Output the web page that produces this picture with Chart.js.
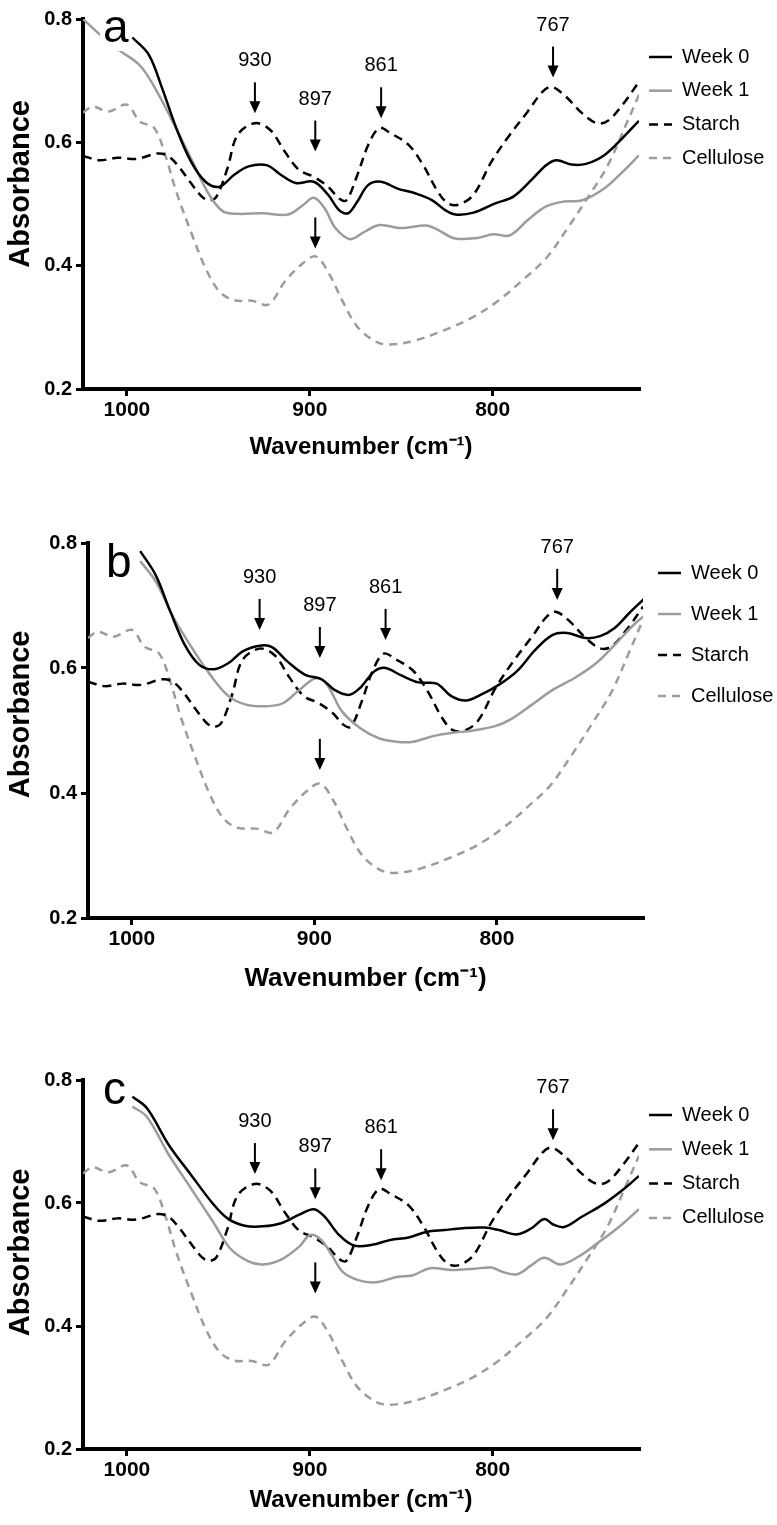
<!DOCTYPE html>
<html>
<head>
<meta charset="utf-8">
<script src="https://cdn.jsdelivr.net/npm/chart.js@4.4.1/dist/chart.umd.min.js"></script>
<style>
  html, body { margin: 0; padding: 0; background: #fff; }
  #wrap { position: relative; width: 777px; height: 1525px; overflow: hidden; }
  .panel { position: absolute; left: 0; width: 777px; }
</style>
</head>
<body>
<div id="wrap">
  <div class="panel" style="top:0;height:472px"><canvas id="chartA"></canvas></div>
  <div class="panel" style="top:490px;height:520px"><canvas id="chartB"></canvas></div>
  <div class="panel" style="top:1030px;height:495px"><canvas id="chartC"></canvas></div>
</div>
<script>
// reference spectra (same in every panel)
const starchWn = [1024, 1015, 1005, 995, 983, 977, 971, 965, 959, 955, 951, 945, 939.5, 930, 921.6, 913.7, 905.8, 897.8, 890, 884, 880, 874, 868, 862, 856, 846, 838, 830, 824.4, 818.5, 810.5, 800.6, 790.7, 780.8, 772.8, 767.9, 761, 751, 743, 737, 729, 720];
const starchAbs = [0.578, 0.571, 0.575, 0.573, 0.582, 0.577, 0.558, 0.534, 0.512, 0.506, 0.512, 0.558, 0.612, 0.631, 0.620, 0.585, 0.555, 0.544, 0.528, 0.509, 0.506, 0.547, 0.596, 0.623, 0.615, 0.596, 0.563, 0.520, 0.501, 0.499, 0.515, 0.569, 0.612, 0.650, 0.682, 0.690, 0.677, 0.647, 0.631, 0.635, 0.661, 0.698];
const celluloseWn = [1024, 1018.8, 1009.9, 1000, 993, 985, 979, 973, 965, 957, 949.4, 941.5, 931.5, 922.6, 913.7, 903.8, 896.8, 890, 882, 874, 864, 856, 842, 826, 810.5, 796.6, 782.7, 770.8, 759, 747, 737, 727.2, 720];
const celluloseAbs = [0.648, 0.658, 0.650, 0.661, 0.634, 0.623, 0.579, 0.520, 0.455, 0.396, 0.358, 0.344, 0.343, 0.337, 0.374, 0.404, 0.415, 0.390, 0.342, 0.301, 0.277, 0.272, 0.279, 0.296, 0.317, 0.344, 0.379, 0.412, 0.461, 0.515, 0.563, 0.628, 0.677];

// panel a
const aWeek0Wn = [997, 988, 981, 973, 965, 957, 949.4, 941.5, 933.5, 923.6, 915.7, 907.7, 897.8, 890, 884, 879, 874, 868, 861, 852, 842, 833, 826, 820.4, 810.5, 798.6, 788.7, 778.8, 770.8, 765, 757, 749, 739, 729, 720];
const aWeek0Abs = [0.770, 0.742, 0.690, 0.623, 0.569, 0.536, 0.528, 0.547, 0.561, 0.563, 0.547, 0.534, 0.536, 0.515, 0.490, 0.485, 0.504, 0.531, 0.536, 0.525, 0.517, 0.506, 0.490, 0.483, 0.486, 0.501, 0.512, 0.539, 0.563, 0.571, 0.564, 0.565, 0.579, 0.607, 0.635];
const aWeek1Wn = [1024, 1016, 1008, 1003, 993, 985, 975, 965, 955, 947.4, 939.5, 925.6, 911.7, 903.8, 897.8, 891.9, 886, 878, 870, 862, 850, 836.3, 830, 820.4, 808.5, 799.6, 790.7, 780.8, 770.8, 761, 751, 739, 729, 720];
const aWeek1Abs = [0.800, 0.778, 0.758, 0.747, 0.725, 0.690, 0.634, 0.574, 0.515, 0.488, 0.484, 0.485, 0.483, 0.498, 0.510, 0.493, 0.461, 0.443, 0.455, 0.466, 0.461, 0.465, 0.458, 0.444, 0.445, 0.451, 0.449, 0.474, 0.496, 0.504, 0.506, 0.525, 0.552, 0.579];

// panel b
const bWeek0Wn = [995.4, 987, 979, 971, 963, 955, 947, 939, 929, 923, 915, 905, 896, 889, 881, 875, 867, 861, 853, 843, 833, 825, 817, 809, 799, 789, 779, 769.5, 761.5, 751.5, 743.5, 735.5, 727.5, 719.6];
const bWeek0Abs = [0.787, 0.749, 0.691, 0.637, 0.605, 0.598, 0.608, 0.627, 0.636, 0.633, 0.611, 0.589, 0.582, 0.565, 0.557, 0.568, 0.595, 0.600, 0.589, 0.577, 0.575, 0.555, 0.548, 0.557, 0.573, 0.595, 0.629, 0.653, 0.656, 0.648, 0.651, 0.664, 0.688, 0.710];
const bWeek1Wn = [995.4, 987, 977, 967, 957, 947, 937, 925, 917, 909, 899, 893, 885, 875, 865, 855, 846, 835, 825, 813, 801, 793, 781, 769.5, 757.5, 745.5, 735.5, 725.5, 719.6];
const bWeek1Abs = [0.771, 0.739, 0.680, 0.632, 0.589, 0.555, 0.541, 0.539, 0.544, 0.563, 0.584, 0.573, 0.531, 0.504, 0.488, 0.482, 0.482, 0.491, 0.496, 0.500, 0.507, 0.517, 0.541, 0.565, 0.584, 0.608, 0.637, 0.668, 0.683];

// panel c
const cWeek0Wn = [997, 989, 977, 965, 953, 945, 935.5, 925.6, 915.7, 905.8, 897.8, 891.9, 884, 876, 866, 856, 846, 836.3, 826.4, 816.5, 804.6, 796.6, 786.7, 778.8, 771.8, 766.9, 760.9, 751, 739, 729, 720];
const cWeek0Abs = [0.773, 0.754, 0.694, 0.646, 0.599, 0.575, 0.563, 0.562, 0.567, 0.581, 0.590, 0.578, 0.548, 0.531, 0.532, 0.540, 0.544, 0.553, 0.556, 0.559, 0.560, 0.556, 0.549, 0.559, 0.574, 0.565, 0.561, 0.578, 0.599, 0.621, 0.644];
const cWeek1Wn = [997, 989, 977, 965, 953, 943.5, 933.5, 925.6, 915.7, 905.8, 899.8, 893.8, 887.9, 882, 874, 864, 852, 844, 834.3, 822.4, 810.5, 800.6, 794.6, 786.7, 778.8, 771.8, 762.9, 753, 743, 731, 720];
const cWeek1Abs = [0.757, 0.740, 0.678, 0.624, 0.570, 0.526, 0.505, 0.500, 0.508, 0.529, 0.548, 0.540, 0.515, 0.488, 0.475, 0.471, 0.480, 0.482, 0.494, 0.491, 0.493, 0.495, 0.488, 0.484, 0.499, 0.511, 0.500, 0.513, 0.534, 0.561, 0.590];

// marked bands and where the arrows point (absorbance at the arrow tip)
const peakWn = [930, 897, 861, 767];
const aPeakTips = [0.647, 0.585, 0.639, 0.705];
const bPeakTips = [0.661, 0.616, 0.645, 0.709];
const cPeakTips = [0.647, 0.606, 0.637, 0.702];
const celluloseBandWn = 897;
const lowTips = { a: 0.428, b: 0.437, c: 0.453 };

const xTicks = [1000, 900, 800];
const seriesLabels = ['Week 0', 'Week 1', 'Starch', 'Cellulose'];

Chart.defaults.font.family = '"Liberation Sans", Arial, Helvetica, sans-serif';
Chart.defaults.color = '#000';

const GREY = '#9c9c9c';

function pts(wn, abs) {
  return wn.map((w, i) => ({ x: w, y: abs[i] }));
}

// arrows + numbers above the bands
const peakMarks = {
  id: 'peakMarks',
  afterDatasetsDraw(chart, args, opts) {
    const { ctx, scales: { x, y } } = chart;
    const len = 31;
    const arrow = (px, tip) => {
      ctx.beginPath();
      ctx.moveTo(px, tip - len);
      ctx.lineTo(px, tip - 10);
      ctx.lineWidth = 2;
      ctx.stroke();
      ctx.beginPath();
      ctx.moveTo(px - 5.5, tip - 12);
      ctx.lineTo(px + 5.5, tip - 12);
      ctx.lineTo(px, tip);
      ctx.closePath();
      ctx.fill();
    };
    ctx.save();
    ctx.strokeStyle = '#000';
    ctx.fillStyle = '#000';
    ctx.font = '20px "Liberation Sans", Arial, sans-serif';
    ctx.textAlign = 'center';
    ctx.textBaseline = 'alphabetic';
    peakWn.forEach((w, i) => {
      const px = x.getPixelForValue(w);
      const tip = y.getPixelForValue(opts.tips[i]);
      arrow(px, tip);
      ctx.fillText(String(w), px, tip - len - 16);
    });
    arrow(x.getPixelForValue(celluloseBandWn), y.getPixelForValue(opts.lowTip));
    ctx.restore();
  }
};

// panel letter, on a white patch like the original
const panelTag = {
  id: 'panelTag',
  afterDatasetsDraw(chart, args, opts) {
    const { ctx, chartArea } = chart;
    ctx.save();
    ctx.font = '46px "Liberation Sans", Arial, sans-serif';
    const tx = chartArea.left + opts.dx;
    const ty = chartArea.top + opts.dy;
    const w = ctx.measureText(opts.text).width;
    ctx.fillStyle = '#fff';
    ctx.fillRect(tx - 3, ty - 34, w + 5, 43);
    ctx.fillStyle = '#000';
    ctx.textBaseline = 'alphabetic';
    ctx.fillText(opts.text, tx, ty);
    ctx.restore();
  }
};

// legend to the right of the plot, built from the dataset styles
const sideLegend = {
  id: 'sideLegend',
  afterDraw(chart, args, opts) {
    const ctx = chart.ctx;
    ctx.save();
    ctx.font = '20px "Liberation Sans", Arial, sans-serif';
    ctx.textBaseline = 'middle';
    chart.data.datasets.forEach((ds, i) => {
      const y = opts.top + i * opts.step;
      ctx.strokeStyle = ds.borderColor;
      ctx.lineWidth = ds.borderWidth;
      ctx.setLineDash(ds.borderDash || []);
      ctx.beginPath();
      ctx.moveTo(opts.left, y);
      ctx.lineTo(opts.left + 23, y);
      ctx.stroke();
      ctx.setLineDash([]);
      ctx.fillStyle = '#000';
      ctx.fillText(ds.label, opts.left + 33, y);
    });
    ctx.restore();
  }
};

function makeChart(id, p) {
  return new Chart(document.getElementById(id), {
    type: 'line',
    data: {
      datasets: [
        { label: seriesLabels[0], data: pts(p.w0wn, p.w0abs), borderColor: '#000', borderWidth: 2.5 },
        { label: seriesLabels[1], data: pts(p.w1wn, p.w1abs), borderColor: GREY, borderWidth: 2.5 },
        { label: seriesLabels[2], data: pts(starchWn, starchAbs), borderColor: '#000', borderWidth: 2.5, borderDash: [9, 6] },
        { label: seriesLabels[3], data: pts(celluloseWn, celluloseAbs), borderColor: GREY, borderWidth: 2.5, borderDash: [8, 6] },
      ],
    },
    options: {
      responsive: true,
      maintainAspectRatio: false,
      animation: false,
      elements: {
        point: { radius: 0 },
        line: { tension: 0.35, fill: false, borderCapStyle: 'butt' },
      },
      layout: { padding: { top: p.padTop, right: p.padRight, left: 0, bottom: 0 } },
      scales: {
        x: {
          type: 'linear',
          min: 720,
          max: 1024,
          reverse: true,
          afterBuildTicks: (s) => { s.ticks = xTicks.map((v) => ({ value: v })); },
          afterFit: (s) => { s.height = p.xHeight; },
          border: { color: '#000', width: 4 },
          grid: { drawOnChartArea: false, drawTicks: true, tickLength: 7, lineWidth: 3, color: '#000' },
          ticks: { color: '#000', padding: 2, maxRotation: 0, font: { size: 21, weight: 'bold' }, callback: (v) => String(v) },
          title: {
            display: true,
            text: 'Wavenumber (cm\u207B\u00B9)',
            color: '#000',
            font: { size: p.xTitleSize, weight: 'bold' },
            padding: { top: 0, bottom: p.xTitlePad },
          },
        },
        y: {
          min: 0.2,
          max: 0.8,
          afterFit: (s) => { s.width = p.yWidth; },
          border: { color: '#000', width: 4 },
          grid: { drawOnChartArea: false, drawTicks: true, tickLength: 7, lineWidth: 3, color: '#000' },
          ticks: { stepSize: 0.2, padding: 4, color: '#000', font: { size: 20, weight: 'bold' }, callback: (v) => Number(v).toFixed(1) },
          title: {
            display: true,
            // leading no-break spaces nudge the centred title upward, as in the original
            text: '\u00A0'.repeat(p.yTitleLift) + 'Absorbance',
            color: '#000',
            font: { size: 29, weight: 'bold' },
            padding: { top: 4, bottom: 0 },
          },
        },
      },
      plugins: {
        legend: { display: false },
        tooltip: { enabled: false },
        peakMarks: { tips: p.tips, lowTip: p.lowTip },
        panelTag: { text: p.tag, dx: p.tagDx, dy: p.tagDy },
        sideLegend: p.legend,
      },
    },
    plugins: [peakMarks, panelTag, sideLegend],
  });
}

makeChart('chartA', {
  w0wn: aWeek0Wn, w0abs: aWeek0Abs, w1wn: aWeek1Wn, w1abs: aWeek1Abs,
  tips: aPeakTips, lowTip: lowTips.a, tag: 'a', tagDx: 20, tagDy: 23,
  padTop: 19, padRight: 138, yWidth: 83, xHeight: 83, xTitleSize: 24, xTitlePad: 10, yTitleLift: 5,
  legend: { left: 649, top: 57, step: 33.7 },
});

makeChart('chartB', {
  w0wn: bWeek0Wn, w0abs: bWeek0Abs, w1wn: bWeek1Wn, w1abs: bWeek1Abs,
  tips: bPeakTips, lowTip: lowTips.b, tag: 'b', tagDx: 18, tagDy: 34,
  padTop: 53, padRight: 134, yWidth: 88, xHeight: 92, xTitleSize: 26, xTitlePad: 16, yTitleLift: 4,
  legend: { left: 658, top: 83, step: 41 },
});

makeChart('chartC', {
  w0wn: cWeek0Wn, w0abs: cWeek0Abs, w1wn: cWeek1Wn, w1abs: cWeek1Abs,
  tips: cPeakTips, lowTip: lowTips.c, tag: 'c', tagDx: 20, tagDy: 24,
  padTop: 50, padRight: 138, yWidth: 83, xHeight: 76, xTitleSize: 24, xTitlePad: 10, yTitleLift: 3,
  legend: { left: 649, top: 85, step: 34.3 },
});
</script>
</body>
</html>
